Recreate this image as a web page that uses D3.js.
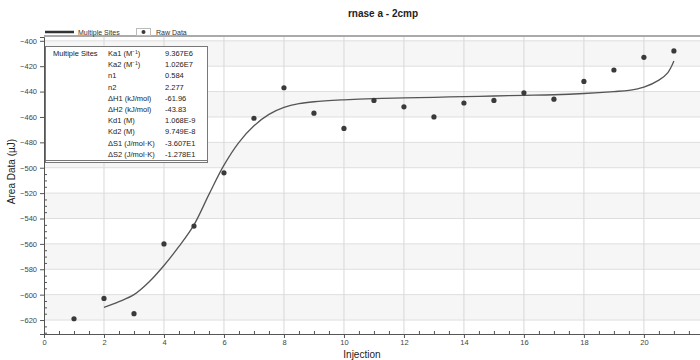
<!DOCTYPE html>
<html>
<head>
<meta charset="utf-8">
<script src="https://cdn.jsdelivr.net/npm/d3@7"></script>
<style>
  body { margin: 0; background: #fff; }
  svg { display: block; font-family: "Liberation Sans", Arial, sans-serif; }
</style>
</head>
<body>
<div id="chart"></div>
<script>
// raw injection heats
const injections = [1, 2, 3, 4, 5, 6, 7, 8, 9, 10, 11, 12, 13, 14, 15, 16, 17, 18, 19, 20, 21];
const rawData = [-619, -603, -615, -560, -546, -504, -461, -437, -457, -469, -447,
                 -452, -460, -449, -447, -441, -446, -432, -423, -413, -408];

// fitted curve (multiple sites model)
const fitX = [2, 2.5, 3, 3.5, 4, 4.5, 5, 5.5, 6, 6.5, 7, 7.5, 8, 8.5, 9, 10, 11, 12, 13, 14,
              15, 16, 17, 18, 19, 19.5, 20, 20.5, 20.8, 21];
const fitY = [-610, -605.5, -600, -590, -577, -562, -545, -521, -498, -480, -467, -458, -452.5, -449.5, -448,
              -446.5, -445.5, -445, -444.5, -444, -443.5, -443, -442.5, -441.5, -440, -439, -436.5, -431, -425, -416];

const fitLabels = ["Ka1 (M\u207B\u00B9)", "Ka2 (M\u207B\u00B9)", "n1", "n2", "\u0394H1 (kJ/mol)", "\u0394H2 (kJ/mol)",
                   "Kd1 (M)", "Kd2 (M)", "\u0394S1 (J/mol\u00B7K)", "\u0394S2 (J/mol\u00B7K)"];
const fitValues = ["9.367E6", "1.026E7", "0.584", "2.277", "-61.96", "-43.83",
                   "1.068E-9", "9.749E-8", "-3.607E1", "-1.278E1"];

const width = 700, height = 360;
const margin = {top: 37, right: 0, bottom: 26, left: 44};

const svg = d3.select("#chart").append("svg")
    .attr("width", width)
    .attr("height", height);

const x = d3.scaleLinear().domain([0, 21.87]).range([margin.left, width - margin.right]);
const y = d3.scaleLinear().domain([-631, -397]).range([height - margin.bottom, margin.top]);

// alternating bands
const bands = d3.range(-620, -400, 20);
svg.selectAll("rect.band")
  .data(bands.filter((d, i) => i % 2 === 0))
  .enter().append("rect")
  .attr("class", "band")
  .attr("x", x(0))
  .attr("width", x.range()[1] - x(0))
  .attr("y", d => y(d + 20))
  .attr("height", d => y(d) - y(d + 20))
  .attr("fill", "#f6f6f6");

// grid
svg.append("g").selectAll("line")
  .data(d3.range(-620, -399, 20))
  .enter().append("line")
  .attr("x1", x(0)).attr("x2", x.range()[1])
  .attr("y1", d => y(d)).attr("y2", d => y(d))
  .attr("stroke", "#dedede");

svg.append("g").selectAll("line")
  .data(d3.range(2, 21, 2))
  .enter().append("line")
  .attr("x1", d => x(d)).attr("x2", d => x(d))
  .attr("y1", y.range()[1]).attr("y2", y.range()[0])
  .attr("stroke", "#d8d8d8");

// top border
svg.append("line")
  .attr("x1", x(0)).attr("x2", width)
  .attr("y1", margin.top - 1).attr("y2", margin.top - 1)
  .attr("stroke", "#aaa").attr("stroke-width", 2);

// axes
const xAxis = svg.append("g")
  .attr("transform", `translate(0,${height - margin.bottom})`)
  .call(d3.axisBottom(x).tickValues(d3.range(0, 21, 2)).tickSize(4).tickPadding(2).tickFormat(d3.format("d")));
svg.append("g")
  .attr("transform", `translate(0,${height - margin.bottom})`)
  .call(d3.axisBottom(x).tickValues(d3.range(0.5, 21.9, 0.5).filter(d => d % 2 !== 0)).tickSize(-3).tickFormat(""))
  .call(g => g.select(".domain").remove());

const yAxis = svg.append("g")
  .attr("transform", `translate(${margin.left},0)`)
  .call(d3.axisLeft(y).tickValues(d3.range(-620, -399, 20)).tickSize(4).tickPadding(3).tickFormat(d3.format("d")));
svg.append("g")
  .attr("transform", `translate(${margin.left},0)`)
  .call(d3.axisLeft(y).tickValues(d3.range(-630, -399, 5).filter(d => d % 20 !== 0)).tickSize(-3).tickFormat(""))
  .call(g => g.select(".domain").remove());

svg.selectAll(".domain").attr("stroke", "#555");
svg.selectAll(".tick line").attr("stroke", "#555");
svg.selectAll(".tick text").attr("fill", "#444").style("font-size", "7.5px");

xAxis.append("text")
  .attr("x", x(10.6)).attr("y", 24)
  .attr("text-anchor", "middle")
  .attr("fill", "#222")
  .style("font-size", "10px")
  .text("Injection");

yAxis.append("text")
  .attr("transform", `translate(-29,${y(-503)}) rotate(-90)`)
  .attr("text-anchor", "middle")
  .attr("fill", "#222")
  .style("font-size", "10px")
  .text("Area Data (\u00B5J)");

// fit curve
const line = d3.line().x(d => x(d[0])).y(d => y(d[1])).curve(d3.curveCatmullRom);
svg.append("path")
  .datum(fitX.map((d, i) => [d, fitY[i]]))
  .attr("d", line)
  .attr("fill", "none")
  .attr("stroke", "#555")
  .attr("stroke-width", 1.3);

// raw points
svg.selectAll("circle.raw")
  .data(injections.map((d, i) => [d, rawData[i]]))
  .enter().append("circle")
  .attr("class", "raw")
  .attr("cx", d => x(d[0]))
  .attr("cy", d => y(d[1]))
  .attr("r", 2.6)
  .attr("fill", "#3a3a3a");

// results box
const box = svg.append("g");
box.append("rect")
  .attr("x", 45.5).attr("y", 46.5)
  .attr("width", 162).attr("height", 116)
  .attr("fill", "#fff")
  .attr("stroke", "#777");
box.append("line")
  .attr("x1", 45.5).attr("x2", 207.5)
  .attr("y1", 160.5).attr("y2", 160.5)
  .attr("stroke", "#777");
box.append("text")
  .attr("x", 53).attr("y", 56)
  .style("font-size", "7.5px").attr("fill", "#222")
  .text("Multiple Sites");
box.selectAll("text.lab")
  .data(fitLabels)
  .enter().append("text")
  .attr("class", "lab")
  .attr("x", 108).attr("y", (d, i) => 56 + i * 11.2)
  .style("font-size", "7.5px").attr("fill", "#222")
  .text(d => d);
box.selectAll("text.val")
  .data(fitValues)
  .enter().append("text")
  .attr("class", "val")
  .attr("x", 165).attr("y", (d, i) => 56 + i * 11.2)
  .style("font-size", "7.5px").attr("fill", "#222")
  .text(d => d);

// title
svg.append("text")
  .attr("x", 383).attr("y", 17)
  .attr("text-anchor", "middle")
  .style("font-size", "10px")
  .style("font-weight", "bold")
  .attr("fill", "#222")
  .text("rnase a - 2cmp");

// legend
const legend = svg.append("g");
legend.append("line")
  .attr("x1", 45).attr("x2", 74).attr("y1", 32).attr("y2", 32)
  .attr("stroke", "#333").attr("stroke-width", 2.5);
legend.append("text")
  .attr("x", 78).attr("y", 34.5)
  .style("font-size", "7px").attr("fill", "#333")
  .text("Multiple Sites");
legend.append("rect")
  .attr("x", 136.5).attr("y", 28.5).attr("width", 14).attr("height", 7)
  .attr("fill", "#fff").attr("stroke", "#bbb");
legend.append("circle")
  .attr("cx", 143.5).attr("cy", 32).attr("r", 2)
  .attr("fill", "#3a3a3a");
legend.append("text")
  .attr("x", 156).attr("y", 34.5)
  .style("font-size", "7px").attr("fill", "#333")
  .text("Raw Data");
</script>
</body>
</html>
